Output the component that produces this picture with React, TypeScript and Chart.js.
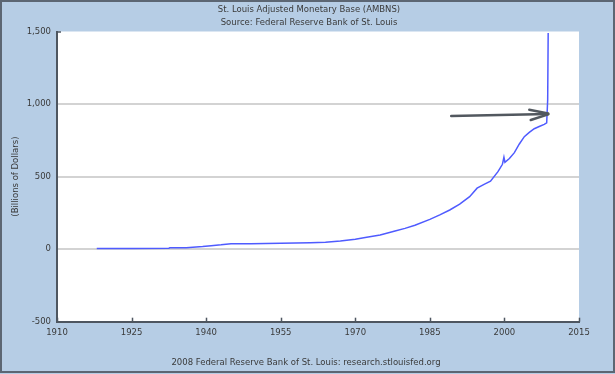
import React, { useEffect, useRef } from "react";
import { Chart, registerables } from "chart.js";

Chart.register(...registerables);

const TITLE_LINES = ["St. Louis Adjusted Monetary Base (AMBNS)", "Source: Federal Reserve Bank of St. Louis"];
const FOOTER = "2008 Federal Reserve Bank of St. Louis: research.stlouisfed.org";
const Y_TITLE = "(Billions of Dollars)";

const years = [
  1918, 1925, 1932.5, 1932.7, 1936, 1939.3, 1941, 1943, 1945, 1947, 1949, 1952, 1955, 1958, 1961, 1964,
  1967, 1970, 1972, 1975, 1978, 1980, 1982, 1985, 1987, 1989, 1991, 1993, 1994.5, 1996, 1997.2, 1998.7,
  1999.6, 1999.9, 2000.1, 2001, 2002, 2003, 2004, 2005, 2006, 2007, 2008, 2008.5, 2008.7, 2008.8,
];
const values = [
  4, 5, 6, 9, 10, 18, 24, 30, 38, 38, 37, 39, 41, 42, 44, 48,
  56, 69, 80, 97, 125, 143, 165, 205, 236, 270, 310, 362, 420, 448, 468, 534,
  585, 633, 599, 625, 665, 725, 775, 805, 830, 845, 860, 870, 1030, 1490,
];

const yTicks = [-500, 0, 500, 1000, 1500];
const xTicks = [1910, 1925, 1940, 1955, 1970, 1985, 2000, 2015];

// annotation arrow in data coordinates [year, value]
const arrowShaft = [[1989.3, 917], [2008.8, 932]];
const arrowHeadUpper = [[2005.0, 961], [2008.8, 935]];
const arrowHeadLower = [[2005.3, 890], [2008.8, 929]];

const FONT = '"DejaVu Sans", Verdana, sans-serif';
const TEXT = "#3a3a3a";

export default function App() {
  const ref = useRef<HTMLCanvasElement | null>(null);

  useEffect(() => {
    document.body.style.margin = "0";
    const canvas = ref.current!;
    const decor = {
      id: "decor",
      beforeDraw(chart: any) {
        const { ctx, chartArea } = chart;
        ctx.save();
        ctx.fillStyle = "#b6cde5";
        ctx.fillRect(0, 0, chart.width, chart.height);
        ctx.strokeStyle = "#5c6673";
        ctx.lineWidth = 2;
        ctx.strokeRect(1, 1, chart.width - 2, chart.height - 3);
        ctx.fillStyle = "#ffffff";
        ctx.fillRect(chartArea.left, chartArea.top, chartArea.right - chartArea.left, chartArea.bottom - chartArea.top);
        ctx.fillStyle = TEXT;
        ctx.font = `8.5px ${FONT}`;
        ctx.textAlign = "center";
        ctx.textBaseline = "middle";
        ctx.fillText(TITLE_LINES[0], 309, 10);
        ctx.fillText(TITLE_LINES[1], 309, 23);
        ctx.fillText(FOOTER, 306, 363);
        ctx.restore();
      },
      afterDraw(chart: any) {
        const { ctx, chartArea } = chart;
        const xs = chart.scales.x;
        const ys = chart.scales.y;
        ctx.save();
        ctx.strokeStyle = "#4e5660";
        ctx.lineWidth = 1.5;
        xTicks.forEach((t) => {
          const px = Math.round(xs.getPixelForValue(t)) + 0.5;
          ctx.beginPath();
          ctx.moveTo(px, chartArea.bottom);
          ctx.lineTo(px, chartArea.bottom - 4);
          ctx.stroke();
        });
        const ty = ys.getPixelForValue(1500);
        ctx.beginPath();
        ctx.moveTo(chartArea.left, ty + 0.5);
        ctx.lineTo(chartArea.left + 4, ty + 0.5);
        ctx.stroke();
        // arrow
        ctx.strokeStyle = "#52585f";
        ctx.lineWidth = 2.5;
        ctx.lineCap = "round";
        [arrowShaft, arrowHeadUpper, arrowHeadLower].forEach((seg) => {
          ctx.beginPath();
          ctx.moveTo(xs.getPixelForValue(seg[0][0]), ys.getPixelForValue(seg[0][1]));
          ctx.lineTo(xs.getPixelForValue(seg[1][0]), ys.getPixelForValue(seg[1][1]));
          ctx.stroke();
        });
        ctx.restore();
      },
    };

    const chart = new Chart(canvas, {
      type: "line",
      data: {
        datasets: [
          {
            data: years.map((y, i) => ({ x: y, y: values[i] })),
            borderColor: "#4f5bff",
            borderWidth: 1.5,
            pointRadius: 0,
            tension: 0,
            fill: false,
          },
        ],
      },
      options: {
        animation: false,
        responsive: false,
        maintainAspectRatio: false,
        layout: { padding: { left: 0, top: 31.5, right: 36, bottom: 32.3 } },
        plugins: { legend: { display: false }, tooltip: { enabled: false }, title: { display: false } },
        scales: {
          x: {
            type: "linear",
            min: 1910,
            max: 2015,
            afterFit: (s: any) => {
              s.height = 20;
            },
            afterBuildTicks: (s: any) => {
              s.ticks = xTicks.map((v) => ({ value: v }));
            },
            grid: { display: true, drawOnChartArea: false, drawTicks: false },
            border: { display: true, color: "#4e5660", width: 2 },
            ticks: {
              padding: 6,
              color: TEXT,
              font: { family: FONT, size: 8.5 },
              maxRotation: 0,
              autoSkip: false,
              callback: (v: any) => String(v),
            },
          },
          y: {
            min: -500,
            max: 1500,
            afterFit: (s: any) => {
              s.width = 57;
            },
            afterBuildTicks: (s: any) => {
              s.ticks = yTicks.map((v) => ({ value: v }));
            },
            grid: {
              drawTicks: false,
              lineWidth: 2,
              color: (c: any) => (c.tick && (c.tick.value === 1500 || c.tick.value === -500) ? "rgba(0,0,0,0)" : "#d3d3d3"),
            },
            border: { display: true, color: "#4e5660", width: 2 },
            ticks: {
              padding: 6,
              color: TEXT,
              font: { family: FONT, size: 8.5 },
              callback: (v: any) => Number(v).toLocaleString("en-US"),
            },
            title: {
              display: true,
              text: Y_TITLE,
              color: TEXT,
              font: { family: FONT, size: 8.5 },
              padding: { top: 11, bottom: 0 },
            },
          },
        },
      },
      plugins: [decor],
    });
    return () => chart.destroy();
  }, []);

  return <canvas ref={ref} width={615} height={374} style={{ display: "block", width: 615, height: 374 }} />;
}
